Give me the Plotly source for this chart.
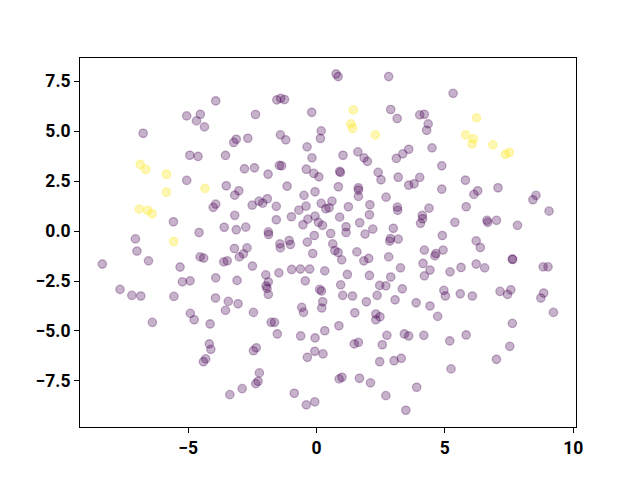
import plotly.graph_objects as go

# purple class (label 0)
x0 = [-5.06,-4.53,-4.68,-4.37,-6.76,-4.94,-4.62,-5.06,
      -3.93,-2.38,-1.55,-1.40,-1.25,-0.19,0.18,0.15,-1.41,-1.20,-3.13,-3.23,-2.68,-0.37,-3.55,-0.18,
      -2.81,-2.42,-1.45,-1.36,-1.89,-0.40,-0.11,0.09,
      0.76,0.84,2.81,5.32,2.89,3.14,4.02,4.20,4.35,4.29,1.03,1.61,1.85,1.98,3.11,3.36,3.59,4.50,4.88,
      0.90,0.93,2.40,2.51,3.18,4.02,5.80,
      -5.58,-7.06,-4.58,-7.00,-6.55,-8.35,-4.54,-4.40,-5.32,-5.23,-4.93,-7.66,-7.20,-6.85,-5.56,
      -3.52,-3.03,-3.19,-1.15,-3.93,-4.03,-2.51,-2.24,-2.10,-1.92,-1.57,-0.49,-0.06,0.18,0.36,-0.41,
      -0.69,-3.19,-0.98,-1.57,-0.34,-0.53,-0.06,0.07,0.23,-3.60,-3.13,-2.76,-1.88,-1.87,-0.09,-1.43,
      -1.41,-1.07,-1.02,-0.36,-3.20,-2.71,-3.01,-2.85,-0.15,-3.62,-3.48,-2.50,-0.97,-0.63,-0.27,0.32,
      -1.98,-1.47,-3.93,-3.10,-1.88,-1.97,-1.93,-0.44,-1.88,0.12,0.19,-3.94,-3.44,-3.06,0.24,
      0.85,1.63,1.63,1.63,3.59,3.80,4.88,2.71,0.60,0.49,2.08,1.24,3.15,3.16,4.38,2.06,0.90,4.12,4.13,
      4.05,1.68,1.15,1.15,2.19,1.89,0.55,2.99,2.88,2.85,3.18,4.90,0.63,0.71,0.84,0.98,1.57,1.84,2.03,
      2.81,4.20,4.65,4.61,4.93,1.20,2.06,3.27,4.15,4.42,4.20,5.20,2.89,0.94,2.46,2.70,3.34,4.96,5.02,
      1.02,1.40,2.36,3.06,1.94,3.88,
      6.28,6.13,7.07,8.55,8.43,5.83,9.06,5.39,6.64,6.67,7.01,7.83,6.22,6.38,7.63,7.64,5.63,6.22,6.55,
      8.83,9.02,5.60,6.07,7.15,7.44,7.57,8.85,8.74,
      -6.40,-4.92,-4.77,-4.41,-4.32,
      -3.55,-2.46,-4.15,-1.77,-1.64,-1.53,-0.58,-0.51,0.20,0.32,-0.62,-0.06,-4.18,-4.12,-2.46,-2.35,
      -0.07,0.25,-0.36,-2.23,-2.28,-2.37,-2.90,-3.38,-0.87,-0.40,-0.07,
      4.42,1.49,2.31,2.47,2.31,4.72,0.87,1.47,1.63,2.74,2.56,3.42,3.59,4.18,5.19,2.46,3.02,3.30,0.88,
      0.99,1.67,2.10,5.24,3.90,2.70,3.48,
      5.83,7.63,9.23,7.53,7.01]
y0 = [5.77,5.85,5.52,5.22,4.90,3.80,3.74,2.54,
      6.52,5.84,6.57,6.65,6.59,5.95,5.02,4.64,4.82,4.57,4.60,4.44,4.65,4.22,3.79,3.67,
      3.12,3.17,3.29,3.27,2.85,3.10,2.89,2.72,
      7.87,7.74,7.74,6.90,6.09,5.64,5.82,5.85,5.37,5.05,3.80,3.97,3.67,3.49,3.64,3.87,4.10,4.17,3.27,
      2.99,2.94,2.94,2.57,2.70,2.69,2.55,
      0.47,-0.39,-0.07,-1.00,-1.49,-1.65,-1.29,-1.35,-1.80,-2.54,-2.49,-2.92,-3.22,-3.25,-3.27,
      2.27,2.02,1.80,2.25,1.35,1.19,1.30,1.50,1.40,1.62,1.24,1.79,1.97,1.39,1.12,1.25,
      1.05,0.79,0.72,0.57,0.60,0.32,0.75,0.44,0.29,0.19,0.07,0.20,-0.04,-0.17,-0.22,-0.64,
      -0.84,-0.47,-0.67,-0.55,-0.87,-0.84,-1.29,-1.14,-1.12,-1.54,-1.49,-1.75,-1.92,-1.90,-1.90,-1.99,
      -2.19,-2.09,-2.34,-2.47,-2.54,-2.75,-2.87,-2.49,-3.17,-2.92,-3.00,-3.35,-3.52,-3.64,-3.54,
      2.22,2.17,2.05,1.74,2.30,2.37,2.10,1.70,1.50,1.17,1.32,1.22,1.20,1.04,1.15,0.82,0.70,0.79,0.62,
      0.39,0.42,0.22,-0.07,0.10,-0.15,-0.12,0.14,-0.37,-0.50,-0.40,-0.22,-0.64,-0.97,-1.07,-1.44,-1.04,-1.49,-1.37,
      -1.29,-0.95,-1.12,-1.24,-0.95,-2.17,-2.22,-1.84,-1.62,-1.95,-2.24,-2.04,-2.30,-2.69,-2.72,-2.74,-2.89,-2.97,-3.25,
      -3.22,-3.25,-3.22,-3.44,-3.54,-3.59,
      2.02,1.84,2.17,1.79,1.57,1.22,1.00,0.44,0.54,0.44,0.54,0.29,-0.49,-0.82,-1.40,-1.42,-1.82,-1.65,-1.84,
      -1.79,-1.79,-3.14,-3.25,-3.02,-3.17,-2.94,-3.10,-3.35,
      -4.57,-4.12,-4.44,-6.54,-6.40,
      -3.97,-4.07,-4.65,-4.57,-4.57,-5.15,-3.82,-4.07,-3.85,-4.99,-5.25,-5.35,-5.65,-5.92,-5.99,-5.84,
      -6.02,-6.15,-6.32,-7.10,-7.52,-7.64,-7.89,-8.19,-8.12,-8.70,-8.55,
      -3.75,-4.09,-4.15,-4.29,-4.44,-4.27,-4.74,-5.65,-5.57,-5.22,-5.69,-5.15,-5.25,-5.22,-5.50,-6.54,-6.49,-6.37,-7.40,
      -7.32,-7.37,-7.60,-6.90,-7.82,-8.24,-8.97,
      -5.20,-4.62,-4.07,-5.77,-6.42]

# yellow class (label 1)
x1 = [-6.87,-6.66,-5.85,1.43,1.34,1.40,2.29,6.23,5.81,6.11,6.06,6.87,7.36,7.51,
      -5.85,-4.35,-6.91,-6.58,-6.41,-5.57]
y1 = [3.34,3.09,2.85,6.07,5.37,5.15,4.82,5.67,4.82,4.62,4.37,4.32,3.84,3.94,
      1.95,2.14,1.10,1.04,0.87,-0.52]

x_ticks = [-5, 0, 5, 10]
x_tick_labels = ["\u22125", "0", "5", "10"]
y_ticks = [-7.5, -5.0, -2.5, 0.0, 2.5, 5.0, 7.5]
y_tick_labels = ["\u22127.5", "\u22125.0", "\u22122.5", "0.0", "2.5", "5.0", "7.5"]

PURPLE = "rgba(68,1,84,0.3)"
YELLOW = "rgba(253,231,37,0.35)"

fig = go.Figure()
fig.add_trace(go.Scatter(x=x0, y=y0, mode="markers",
                         marker=dict(size=8.4, color=PURPLE, line=dict(color=PURPLE, width=1.3)),
                         showlegend=False, hoverinfo="skip"))
fig.add_trace(go.Scatter(x=x1, y=y1, mode="markers",
                         marker=dict(size=8.4, color=YELLOW, line=dict(color=YELLOW, width=1.3)),
                         showlegend=False, hoverinfo="skip"))

axis_common = dict(showgrid=False, zeroline=False, showline=True, linecolor="black",
                   linewidth=1, mirror=True, ticks="outside", ticklen=5, tickwidth=1,
                   tickcolor="black",
                   tickfont=dict(family="Roboto", size=17.5, color="black", weight="bold"))

fig.update_layout(
    width=640, height=480,
    margin=dict(l=72, r=72, t=50, b=61, autoexpand=False),
    paper_bgcolor="white", plot_bgcolor="white",
    xaxis=dict(range=[-9.22, 10.11], tickvals=x_ticks, ticktext=x_tick_labels, **axis_common),
    yaxis=dict(range=[-9.81, 8.67], tickvals=y_ticks, ticktext=y_tick_labels, **axis_common),
)

fig.write_html("out.html")
